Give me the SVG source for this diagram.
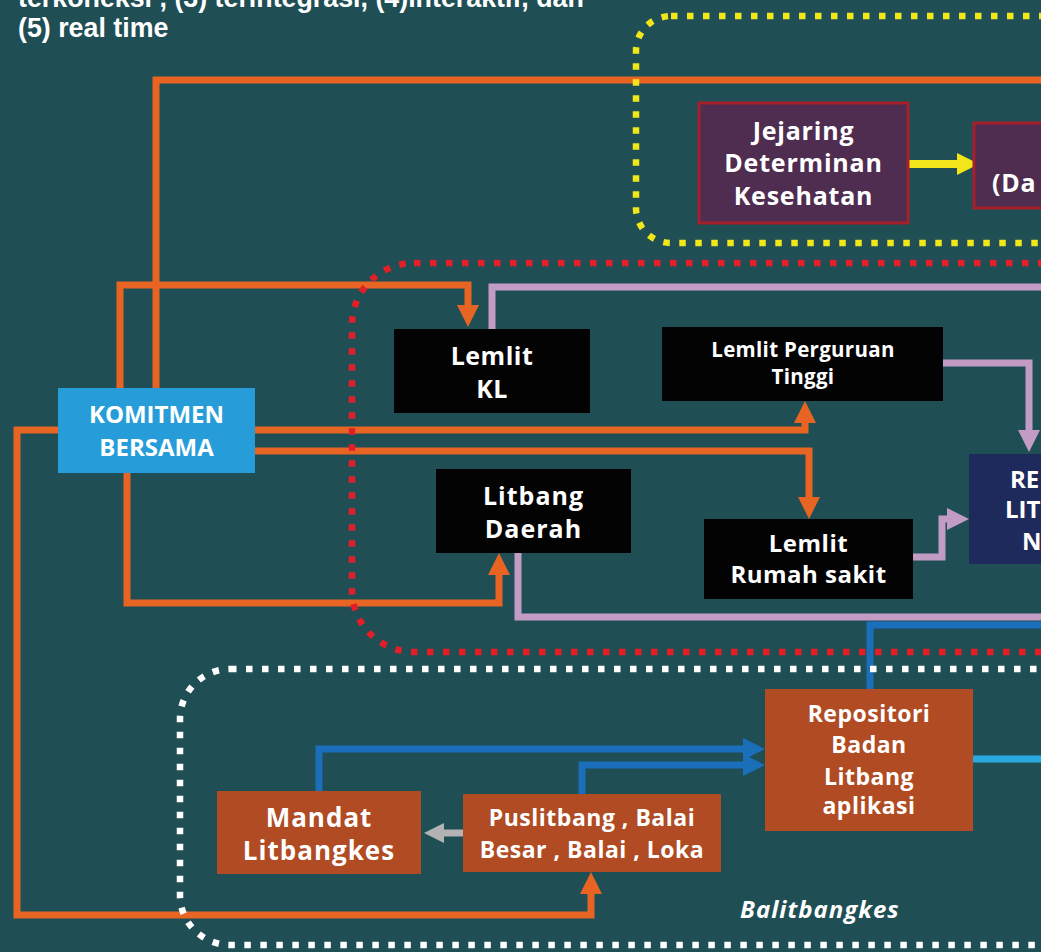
<svg xmlns="http://www.w3.org/2000/svg" width="1041" height="952" viewBox="0 0 1041 952">
<style>
.bg{fill:#1f4f55}
.hdr{font-family:"Liberation Sans",Arial,sans-serif;font-weight:bold;font-size:26.8px;fill:#ffffff}
.t{font-family:"Open Sans","DejaVu Sans",sans-serif;font-weight:bold;fill:#ffffff;text-anchor:middle}
.ln{fill:none;stroke-width:7;stroke-linejoin:miter}
.or{stroke:#e86423}
.li{stroke:#c39cc5}
.bl{stroke:#1b6fba}
.lb{stroke:#29a9e0}
.ye{stroke:#f2e61b;stroke-width:8}
.gr{stroke:#b3b3b3}
.dot{fill:none;stroke-width:6.5;stroke-dasharray:6.5 9.5}
.blk{fill:#030303}
.brn{fill:#b04b23}
.pur{fill:#4f2d50;stroke:#a61f2a;stroke-width:3}
</style>
<defs>
<marker id="aOr" markerUnits="userSpaceOnUse" markerWidth="22" markerHeight="22" refX="2" refY="11" orient="auto"><path d="M0,0 L22,11 L0,22 z" fill="#e86423"/></marker>
<marker id="aLi" markerUnits="userSpaceOnUse" markerWidth="22" markerHeight="22" refX="2" refY="11" orient="auto"><path d="M0,0 L22,11 L0,22 z" fill="#c39cc5"/></marker>
<marker id="aBl" markerUnits="userSpaceOnUse" markerWidth="22" markerHeight="22" refX="2" refY="11" orient="auto"><path d="M0,0 L22,11 L0,22 z" fill="#1b6fba"/></marker>
<marker id="aYe" markerUnits="userSpaceOnUse" markerWidth="22" markerHeight="22" refX="2" refY="11" orient="auto"><path d="M0,0 L22,11 L0,22 z" fill="#f2e61b"/></marker>
<marker id="aGr" markerUnits="userSpaceOnUse" markerWidth="22" markerHeight="22" refX="2" refY="11" orient="auto"><path d="M0,1 L20,11 L0,21 z" fill="#b3b3b3"/></marker>
</defs>
<rect class="bg" x="0" y="0" width="1041" height="952"/>
<g id="header">
<text class="hdr" x="18" y="7">terkoneksi , (3) terintegrasi, (4)interaktif, dan</text>
<text class="hdr" x="18" y="37">(5) real time</text>
</g>
<g id="connectors">
<path class="ln or" d="M156,388 V80 H1045"/>
<path class="ln or" d="M120,388 V285 H468 V307" marker-end="url(#aOr)"/>
<path class="ln or" d="M58,430 H17 V915 H591 V892" marker-end="url(#aOr)"/>
<path class="ln or" d="M255,430 H805 V421" marker-end="url(#aOr)"/>
<path class="ln or" d="M255,451 H809 V499" marker-end="url(#aOr)"/>
<path class="ln or" d="M127,473 V603 H499 V573" marker-end="url(#aOr)"/>
<path class="ln li" d="M492,329 V287 H1045"/>
<path class="ln li" d="M943,363 H1029 V432" marker-end="url(#aLi)"/>
<path class="ln li" d="M913,557 H942 V519 H949" marker-end="url(#aLi)"/>
<path class="ln li" d="M518,553 V617 H1045"/>
<path class="ln bl" d="M870,689 V625 H1045"/>
<path class="ln bl" d="M319,791 V749 H745" marker-end="url(#aBl)"/>
<path class="ln bl" d="M582,794 V765 H745" marker-end="url(#aBl)"/>
<path class="ln lb" d="M973,759 H1045"/>
<path class="ln ye" d="M908,164 H959" marker-end="url(#aYe)"/>
<path class="ln gr" d="M463,833 H442" marker-end="url(#aGr)"/>
</g>
<g id="regions">
<rect class="dot" x="636" y="16" width="600" height="227" rx="35" stroke="#f2e61b"/>
<rect class="dot" x="352" y="263" width="800" height="389" rx="62" stroke="#e31e26"/>
<rect class="dot" x="180" y="669" width="1000" height="276" rx="50" stroke="#ffffff"/>
</g>
<g id="komitmen">
<rect x="58" y="388" width="197" height="85" fill="#269dd8"/>
<text class="t" x="156.5" y="423" font-size="24">KOMITMEN</text>
<text class="t" x="156.5" y="456" font-size="24">BERSAMA</text>
</g>
<g id="jejaring">
<rect class="pur" x="699" y="103" width="209" height="120"/>
<text class="t" x="803.5" y="140" font-size="25" letter-spacing="0.8">Jejaring</text>
<text class="t" x="803.5" y="172" font-size="25" letter-spacing="0.8">Determinan</text>
<text class="t" x="803.5" y="205" font-size="25" letter-spacing="0.8">Kesehatan</text>
</g>
<g id="data">
<rect class="pur" x="974" y="123" width="120" height="85"/>
<text class="t" x="992" y="192" font-size="25" style="text-anchor:start" letter-spacing="0.8">(Da</text>
</g>
<g id="lemlit-kl">
<rect class="blk" x="394" y="329" width="196" height="84"/>
<text class="t" x="492" y="365" font-size="25" letter-spacing="0.5">Lemlit</text>
<text class="t" x="492" y="398" font-size="25" letter-spacing="0.5">KL</text>
</g>
<g id="lemlit-pt">
<rect class="blk" x="662" y="327" width="281" height="74"/>
<text class="t" x="803" y="357" font-size="20.5" letter-spacing="0.3">Lemlit Perguruan</text>
<text class="t" x="803" y="384" font-size="20.5" letter-spacing="0.3">Tinggi</text>
</g>
<g id="litbang-daerah">
<rect class="blk" x="436" y="469" width="195" height="84"/>
<text class="t" x="533.5" y="505" font-size="25" letter-spacing="1">Litbang</text>
<text class="t" x="533.5" y="538" font-size="25" letter-spacing="1">Daerah</text>
</g>
<g id="lemlit-rs">
<rect class="blk" x="704" y="519" width="209" height="80"/>
<text class="t" x="808.5" y="552" font-size="24" letter-spacing="0.5">Lemlit</text>
<text class="t" x="808.5" y="583" font-size="24" letter-spacing="0.5">Rumah sakit</text>
</g>
<g id="repositori-nasional">
<rect x="969" y="454" width="200" height="110" fill="#1f2a5c"/>
<text class="t" x="1010" y="488" font-size="24" style="text-anchor:start">RE</text>
<text class="t" x="1005" y="518" font-size="24" style="text-anchor:start">LIT</text>
<text class="t" x="1022" y="550" font-size="24" style="text-anchor:start">NA</text>
</g>
<g id="repositori-badan">
<rect class="brn" x="765" y="689" width="208" height="142"/>
<text class="t" x="869" y="722" font-size="23" letter-spacing="0.5">Repositori</text>
<text class="t" x="869" y="753" font-size="23" letter-spacing="0.5">Badan</text>
<text class="t" x="869" y="785" font-size="23" letter-spacing="0.5">Litbang</text>
<text class="t" x="869" y="814" font-size="23" letter-spacing="0.5">aplikasi</text>
</g>
<g id="mandat">
<rect class="brn" x="217" y="791" width="204" height="83"/>
<text class="t" x="319" y="827" font-size="26" letter-spacing="1">Mandat</text>
<text class="t" x="319" y="860" font-size="26" letter-spacing="1">Litbangkes</text>
</g>
<g id="puslitbang">
<rect class="brn" x="463" y="794" width="258" height="78"/>
<text class="t" x="592" y="826" font-size="23" letter-spacing="0.5">Puslitbang , Balai</text>
<text class="t" x="592" y="858" font-size="23" letter-spacing="0.5">Besar , Balai , Loka</text>
</g>
<g id="balitbangkes-label">
<text class="t" x="740" y="918" font-size="24" font-style="italic" letter-spacing="1" style="text-anchor:start">Balitbangkes</text>
</g>
</svg>
